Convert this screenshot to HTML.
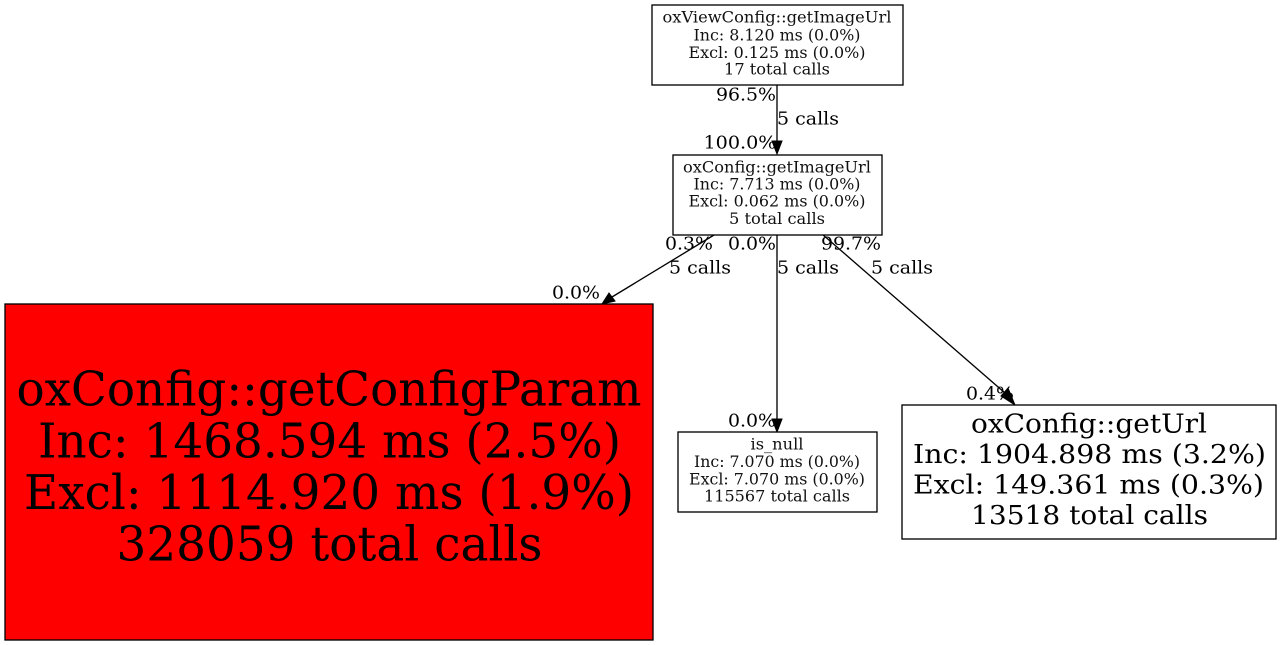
<!DOCTYPE html>
<html>
<head>
<meta charset="utf-8">
<style>
html,body{margin:0;padding:0;background:#fff;width:1281px;height:645px;overflow:hidden}
svg{display:block}
text{font-family:"DejaVu Serif",serif;fill:#000;text-anchor:middle}
.s{font-size:15.5px;fill:#111}
.e{font-size:18px}
.m{font-size:26.5px}
.l{font-size:48px}
</style>
</head>
<body>
<svg width="1281" height="645" viewBox="0 0 1281 645" xmlns="http://www.w3.org/2000/svg">
<rect width="1281" height="645" fill="#fff"/>

<!-- edges -->
<g stroke="#000" stroke-width="1.33" fill="none">
<line x1="777" y1="85" x2="777" y2="142"/>
<line x1="714" y1="235" x2="612" y2="297"/>
<line x1="777" y1="235" x2="777" y2="420"/>
<line x1="822" y1="234" x2="1005" y2="393"/>
</g>
<g fill="#000" stroke="#000" stroke-width="1">
<polygon points="772,141 782,141 777,154"/>
<polygon points="609,293 615,301 602,304"/>
<polygon points="772,419 782,419 777,432"/>
<polygon points="1001,396 1008,388 1015,405"/>
</g>

<!-- nodes -->
<g stroke="#000" stroke-width="1.33">
<rect x="652" y="5" width="251" height="80" fill="#fff"/>
<rect x="673" y="155" width="209" height="80" fill="#fff"/>
<rect x="5" y="304" width="648" height="336" fill="#ff0000"/>
<rect x="678" y="432" width="199" height="80" fill="#fff"/>
<rect x="902" y="405" width="374" height="134" fill="#fff"/>
</g>

<!-- node 1 -->
<text class="s" x="777" y="22.7" textLength="229" lengthAdjust="spacingAndGlyphs">oxViewConfig::getImageUrl</text>
<text class="s" x="777" y="40.5" textLength="167" lengthAdjust="spacingAndGlyphs">Inc: 8.120 ms (0.0%)</text>
<text class="s" x="777" y="58" textLength="177" lengthAdjust="spacingAndGlyphs">Excl: 0.125 ms (0.0%)</text>
<text class="s" x="777" y="74.7" textLength="106" lengthAdjust="spacingAndGlyphs">17 total calls</text>

<!-- node 2 -->
<text class="s" x="777" y="172.7" textLength="188" lengthAdjust="spacingAndGlyphs">oxConfig::getImageUrl</text>
<text class="s" x="777" y="189.5" textLength="167" lengthAdjust="spacingAndGlyphs">Inc: 7.713 ms (0.0%)</text>
<text class="s" x="777" y="206.7" textLength="177" lengthAdjust="spacingAndGlyphs">Excl: 0.062 ms (0.0%)</text>
<text class="s" x="777" y="224" textLength="96" lengthAdjust="spacingAndGlyphs">5 total calls</text>

<!-- big red node -->
<text class="l" x="329" y="405.5" textLength="625" lengthAdjust="spacingAndGlyphs">oxConfig::getConfigParam</text>
<text class="l" x="329.5" y="457.5" textLength="583" lengthAdjust="spacingAndGlyphs">Inc: 1468.594 ms (2.5%)</text>
<text class="l" x="329" y="509" textLength="610" lengthAdjust="spacingAndGlyphs">Excl: 1114.920 ms (1.9%)</text>
<text class="l" x="329.5" y="560.5" textLength="426" lengthAdjust="spacingAndGlyphs">328059 total calls</text>

<!-- is_null -->
<text class="s" x="777" y="449.7" textLength="53" lengthAdjust="spacingAndGlyphs">is_null</text>
<text class="s" x="777" y="467" textLength="166" lengthAdjust="spacingAndGlyphs">Inc: 7.070 ms (0.0%)</text>
<text class="s" x="777" y="484.7" textLength="176" lengthAdjust="spacingAndGlyphs">Excl: 7.070 ms (0.0%)</text>
<text class="s" x="777" y="501.5" textLength="146" lengthAdjust="spacingAndGlyphs">115567 total calls</text>

<!-- getUrl -->
<text class="m" x="1089" y="432.5" textLength="236" lengthAdjust="spacingAndGlyphs">oxConfig::getUrl</text>
<text class="m" x="1089.5" y="463" textLength="353" lengthAdjust="spacingAndGlyphs">Inc: 1904.898 ms (3.2%)</text>
<text class="m" x="1088.5" y="493.5" textLength="351" lengthAdjust="spacingAndGlyphs">Excl: 149.361 ms (0.3%)</text>
<text class="m" x="1089.5" y="524" textLength="237" lengthAdjust="spacingAndGlyphs">13518 total calls</text>

<!-- edge labels -->
<text class="e" x="746" y="100.5" textLength="60" lengthAdjust="spacingAndGlyphs">96.5%</text>
<text class="e" x="808" y="124.5" textLength="62" lengthAdjust="spacingAndGlyphs">5 calls</text>
<text class="e" x="740" y="148.5" textLength="73" lengthAdjust="spacingAndGlyphs">100.0%</text>
<text class="e" x="689" y="249.5" textLength="48" lengthAdjust="spacingAndGlyphs">0.3%</text>
<text class="e" x="752" y="249.5" textLength="48" lengthAdjust="spacingAndGlyphs">0.0%</text>
<text class="e" x="851" y="249.5" textLength="60" lengthAdjust="spacingAndGlyphs">99.7%</text>
<text class="e" x="700" y="273.5" textLength="62" lengthAdjust="spacingAndGlyphs">5 calls</text>
<text class="e" x="808" y="273.5" textLength="62" lengthAdjust="spacingAndGlyphs">5 calls</text>
<text class="e" x="902" y="273.5" textLength="62" lengthAdjust="spacingAndGlyphs">5 calls</text>
<text class="e" x="576" y="298.5" textLength="48" lengthAdjust="spacingAndGlyphs">0.0%</text>
<text class="e" x="752" y="426.5" textLength="48" lengthAdjust="spacingAndGlyphs">0.0%</text>
<text class="e" x="990" y="399.5" textLength="48" lengthAdjust="spacingAndGlyphs">0.4%</text>
</svg>
</body>
</html>
